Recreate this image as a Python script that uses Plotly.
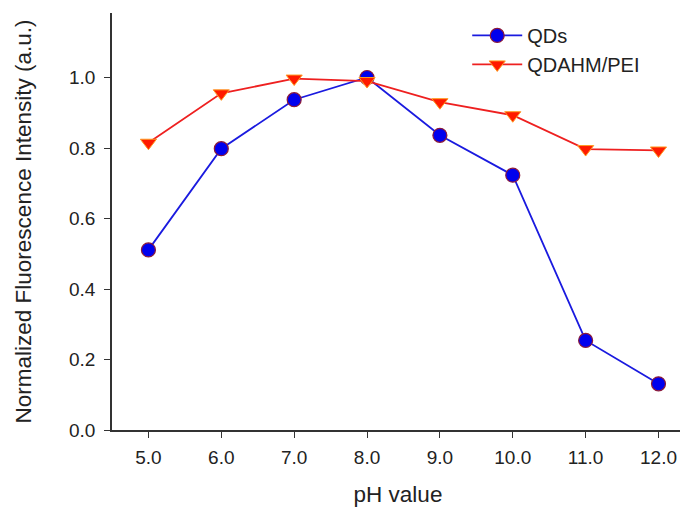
import plotly.graph_objects as go

ph = [5.0, 6.0, 7.0, 8.0, 9.0, 10.0, 11.0, 12.0]
qds = [0.511, 0.798, 0.937, 1.0, 0.836, 0.723, 0.254, 0.131]
qdahm_pei = [0.815, 0.955, 0.997, 0.99, 0.93, 0.893, 0.797, 0.793]
x_ticks = [5.0, 6.0, 7.0, 8.0, 9.0, 10.0, 11.0, 12.0]
x_tick_text = ["5.0", "6.0", "7.0", "8.0", "9.0", "10.0", "11.0", "12.0"]
y_ticks = [0.0, 0.2, 0.4, 0.6, 0.8, 1.0]
y_tick_text = ["0.0", "0.2", "0.4", "0.6", "0.8", "1.0"]

fig = go.Figure()
fig.add_trace(go.Scatter(
    x=ph, y=qds, name="QDs", mode="lines+markers",
    line=dict(color="#1a1adf", width=1.8),
    marker=dict(symbol="circle", size=14, color="#0000ee",
                line=dict(color="#8b1a3a", width=1.2)),
))
fig.add_trace(go.Scatter(
    x=ph, y=qdahm_pei, name="QDAHM/PEI", mode="lines+markers",
    line=dict(color="#ee2020", width=1.8),
    marker=dict(symbol="triangle-down", size=14, color="#ff1a00",
                line=dict(color="#ff9a20", width=1)),
))

font_family = "Liberation Sans, Arial, sans-serif"
fig.update_layout(
    width=680, height=503,
    margin=dict(l=104, r=4, t=5, b=81),
    plot_bgcolor="white", paper_bgcolor="white",
    font=dict(family=font_family, size=19, color="#222"),
    showlegend=True,
    legend=dict(x=0.621, y=0.993, xanchor="left", yanchor="top",
                bgcolor="rgba(0,0,0,0)", font=dict(size=20, color="#222"),
                itemwidth=50, tracegroupgap=0),
    xaxis=dict(
        range=[4.5, 12.35], tickmode="array", tickvals=x_ticks, ticktext=x_tick_text,
        showline=True, linecolor="#333", linewidth=1.5, showgrid=False, zeroline=False,
        ticks="outside", ticklen=6, tickcolor="#333", tickwidth=1.3,
        tickfont=dict(size=19, color="#222"), ticklabelstandoff=3, automargin=False,
        title=dict(text="pH value", font=dict(size=22.5, color="#222"), standoff=20),
    ),
    yaxis=dict(
        range=[0, 1.183], tickmode="array", tickvals=y_ticks, ticktext=y_tick_text,
        showline=True, linecolor="#333", linewidth=1.5, showgrid=False, zeroline=False,
        ticks="outside", ticklen=6, tickcolor="#333", tickwidth=1.3,
        tickfont=dict(size=19, color="#222"), ticklabelstandoff=5, automargin=False,
        title=dict(text="Normalized Fluorescence Intensity (a.u.)",
                   font=dict(size=22.5, color="#222"), standoff=31),
    ),
)

fig.write_html("out.html")
